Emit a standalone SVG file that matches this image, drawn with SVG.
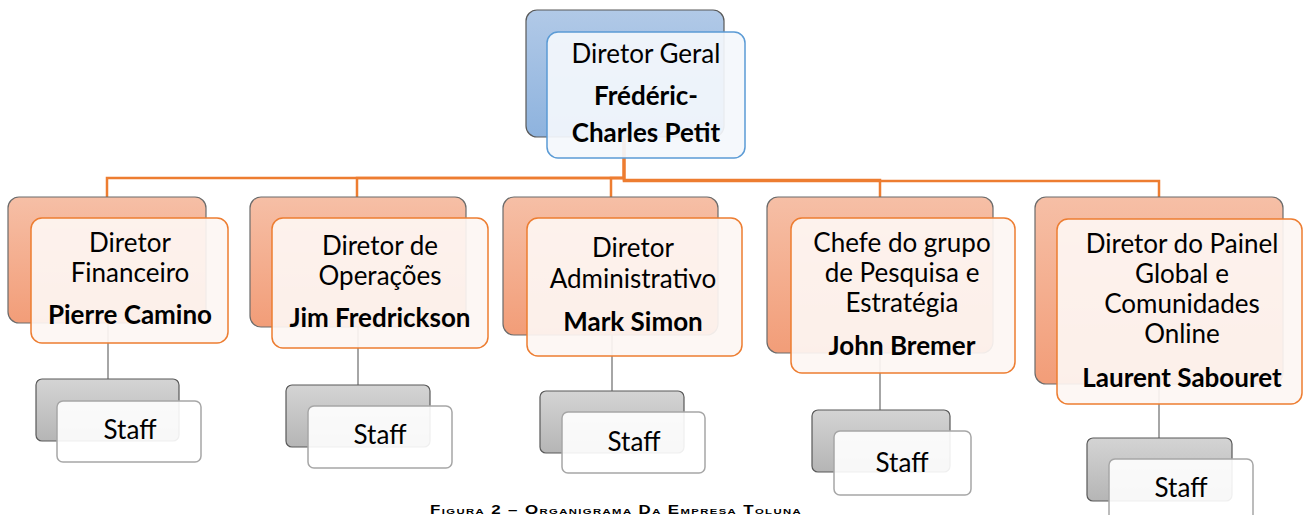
<svg xmlns="http://www.w3.org/2000/svg" width="1303" height="515" viewBox="0 0 1303 515">
<style>
text{font-family:Lato,"Open Sans","Liberation Sans",sans-serif;font-size:26px;fill:#000;text-anchor:middle}
.b{font-weight:bold}
.conn{fill:none;stroke:#ed7d31;stroke-width:2.5}
.gconn{fill:none;stroke:#a6a6a6;stroke-width:2}
.topB{fill:url(#gBlue);stroke:#595959;stroke-width:1.2}
.topF{fill:#f4f7fc;fill-opacity:0.92;stroke:#5b9bd5;stroke-width:1.5}
.oB{fill:url(#gOr);stroke:#6b6b6b;stroke-width:1.2}
.oF{fill:#fdf6f3;fill-opacity:0.92;stroke:#ed7d31;stroke-width:1.5}
.sB{fill:url(#gGr);stroke:#595959;stroke-width:1.2}
.sF{fill:#ffffff;fill-opacity:0.9;stroke:#a6a6a6;stroke-width:1.5}
.cap{font-family:"Liberation Sans",sans-serif;font-size:12px;font-weight:bold;font-variant:small-caps;text-anchor:start;letter-spacing:1px}
</style>
<defs>
<linearGradient id="gBlue" x1="0" y1="0" x2="0" y2="1"><stop offset="0" stop-color="#b1c9e7"/><stop offset="1" stop-color="#8eb3de"/></linearGradient>
<linearGradient id="gOr" x1="0" y1="0" x2="0" y2="1"><stop offset="0" stop-color="#f6bfa6"/><stop offset="1" stop-color="#f29d78"/></linearGradient>
<linearGradient id="gGr" x1="0" y1="0" x2="0" y2="1"><stop offset="0" stop-color="#d4d4d4"/><stop offset="1" stop-color="#b5b5b5"/></linearGradient>
</defs>
<g id="connectors">
<polyline class="conn" points="624,137 624,178 107,178 107,197"/>
<polyline class="conn" points="624,137 624,178 357,178 357,197"/>
<polyline class="conn" points="624,137 624,178 611,178 611,197"/>
<polyline class="conn" points="624,137 624,180 880,180 880,197"/>
<polyline class="conn" points="624,137 624,181 1159,181 1159,197"/>
<line class="gconn" x1="108" y1="323" x2="108" y2="379"/>
<line class="gconn" x1="358" y1="327" x2="358" y2="385"/>
<line class="gconn" x1="612" y1="335" x2="612" y2="391"/>
<line class="gconn" x1="880" y1="353" x2="880" y2="410"/>
<line class="gconn" x1="1159" y1="384" x2="1159" y2="438"/>
</g>
<g id="node-diretor-geral">
<rect class="topB" x="526" y="10" width="198" height="127" rx="11"/>
<rect class="topF" x="547" y="32" width="198" height="126" rx="11"/>
<text x="646" y="63">Diretor Geral</text>
<text class="b" x="646" y="105">Frédéric-</text>
<text class="b" x="646" y="142">Charles Petit</text>
</g>
<g id="node-financeiro">
<rect class="oB" x="8" y="197" width="198" height="126" rx="11"/>
<rect class="oF" x="31" y="218" width="197" height="125" rx="11"/>
<text x="130" y="252">Diretor</text>
<text x="130" y="282">Financeiro</text>
<text class="b" x="130" y="324">Pierre Camino</text>
</g>
<g id="node-operacoes">
<rect class="oB" x="250" y="197" width="216" height="130" rx="11"/>
<rect class="oF" x="272" y="218" width="216" height="130" rx="11"/>
<text x="380" y="255">Diretor de</text>
<text x="380" y="285">Operações</text>
<text class="b" x="380" y="327">Jim Fredrickson</text>
</g>
<g id="node-administrativo">
<rect class="oB" x="503" y="197" width="215" height="138" rx="11"/>
<rect class="oF" x="527" y="218" width="215" height="138" rx="11"/>
<text x="633" y="257">Diretor</text>
<text x="633" y="288">Administrativo</text>
<text class="b" x="633" y="331">Mark Simon</text>
</g>
<g id="node-pesquisa">
<rect class="oB" x="767" y="197" width="226" height="156" rx="11"/>
<rect class="oF" x="791" y="218" width="224" height="155" rx="11"/>
<text x="902" y="252">Chefe do grupo</text>
<text x="902" y="282">de Pesquisa e</text>
<text x="902" y="312">Estratégia</text>
<text class="b" x="902" y="355">John Bremer</text>
</g>
<g id="node-painel">
<rect class="oB" x="1035" y="197" width="248" height="187" rx="11"/>
<rect class="oF" x="1057" y="219" width="245" height="185" rx="11"/>
<text x="1182" y="253">Diretor do Painel</text>
<text x="1182" y="283">Global e</text>
<text x="1182" y="313">Comunidades</text>
<text x="1182" y="343">Online</text>
<text class="b" x="1182" y="387">Laurent Sabouret</text>
</g>
<g id="staff-1">
<rect class="sB" x="36" y="379" width="143" height="62" rx="6"/>
<rect class="sF" x="57" y="401" width="144" height="61" rx="6"/>
<text x="130" y="439">Staff</text>
</g>
<g id="staff-2">
<rect class="sB" x="286" y="385" width="144" height="62" rx="6"/>
<rect class="sF" x="308" y="406" width="144" height="62" rx="6"/>
<text x="380" y="444">Staff</text>
</g>
<g id="staff-3">
<rect class="sB" x="540" y="391" width="144" height="62" rx="6"/>
<rect class="sF" x="562" y="412" width="143" height="61" rx="6"/>
<text x="634" y="451">Staff</text>
</g>
<g id="staff-4">
<rect class="sB" x="812" y="410" width="138" height="62" rx="6"/>
<rect class="sF" x="834" y="431" width="137" height="64" rx="6"/>
<text x="902" y="472">Staff</text>
</g>
<g id="staff-5">
<rect class="sB" x="1087" y="438" width="145" height="63" rx="6"/>
<rect class="sF" x="1109" y="459" width="144" height="64" rx="6"/>
<text x="1181" y="497">Staff</text>
</g>
<text class="cap" x="430" y="514" textLength="372" lengthAdjust="spacingAndGlyphs">Figura 2 – Organigrama Da Empresa Toluna</text>
</svg>
